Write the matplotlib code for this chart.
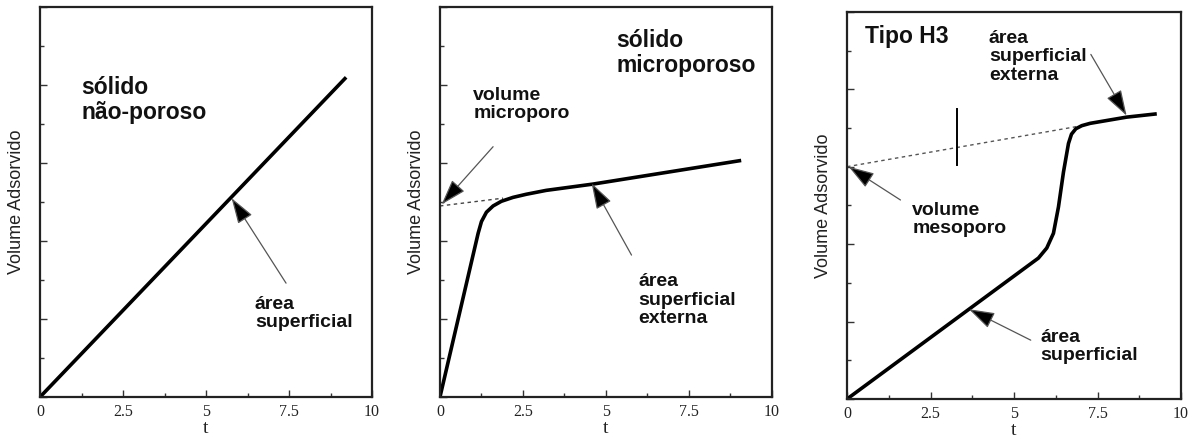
import numpy as np
import matplotlib.pyplot as plt
from matplotlib.ticker import MultipleLocator

# isotherm t-plot curves (t, volume adsorbed)
t_nonporous = [0.0, 9.22]
v_nonporous = [0.0, 4.10]

t_micro = [0.0, 1.15, 1.25, 1.40, 1.60, 1.85, 2.20, 2.60, 3.20, 4.60, 9.02]
v_micro = [0.0, 2.10, 2.25, 2.37, 2.45, 2.51, 2.56, 2.60, 2.65, 2.73, 3.03]
t_micro_extrap = [0.0, 1.9]
v_micro_extrap = [2.45, 2.55]

t_h3 = [0.0, 5.73, 5.98, 6.18, 6.33, 6.48, 6.63, 6.72, 6.85, 7.03, 7.28, 8.37, 9.22]
v_h3 = [0.0, 1.82, 1.95, 2.14, 2.48, 2.93, 3.30, 3.42, 3.49, 3.53, 3.56, 3.64, 3.68]
t_h3_extrap = [0.0, 6.9]
v_h3_extrap = [3.0, 3.52]
t_h3_mark = [3.28, 3.28]
v_h3_mark = [3.02, 3.74]

xticks = [0, 2.5, 5, 7.5, 10]
xticklabels = ["0", "2.5", "5", "7.5", "10"]

# (text, x, top y, fontsize)
labels_1 = [("sólido\nnão-poroso", 1.25, 4.12, 16.5),
            ("área\nsuperficial", 6.47, 1.30, 14)]
labels_2 = [("sólido\nmicroporoso", 5.32, 4.72, 16.5),
            ("volume\nmicroporo", 1.0, 3.98, 14),
            ("área\nsuperficial\nexterna", 5.97, 1.59, 14)]
labels_3 = [("Tipo H3", 0.55, 4.83, 16.5),
            ("área\nsuperficial\nexterna", 4.25, 4.77, 14),
            ("volume\nmesoporo", 1.95, 2.55, 14),
            ("área\nsuperficial", 5.8, 0.91, 14)]

# (head xy, tail xy)
arrows_1 = [((5.77, 2.55), (7.41, 1.46))]
arrows_2 = [((0.05, 2.47), (1.6, 3.21)),
            ((4.57, 2.74), (5.77, 1.82))]
arrows_3 = [((0.05, 3.0), (1.6, 2.57)),
            ((8.37, 3.66), (7.3, 4.45)),
            ((3.65, 1.16), (5.5, 0.76))]

plt.rcParams['font.family'] = ['Liberation Sans', 'DejaVu Sans']

fig = plt.figure(figsize=(11.92, 4.41), dpi=100)
ax1 = fig.add_axes([0.0336, 0.0998, 0.2785, 0.884])
ax2 = fig.add_axes([0.3691, 0.0998, 0.2785, 0.884])
ax3 = fig.add_axes([0.7106, 0.0952, 0.2802, 0.878])


def style_axes(ax):
    ax.set_xlim(0, 10)
    ax.set_ylim(0, 5)
    ax.set_xticks(xticks)
    ax.set_xticklabels(xticklabels, family=['Liberation Serif'], fontsize=11.5,
                       color='#222222')
    ax.xaxis.set_minor_locator(MultipleLocator(1.25))
    ax.yaxis.set_major_locator(MultipleLocator(1))
    ax.yaxis.set_minor_locator(MultipleLocator(0.5))
    ax.set_yticklabels([])
    ax.tick_params(which='both', direction='in', top=False, right=False,
                   color='#333333', width=1)
    ax.tick_params(which='major', length=5, pad=5)
    ax.tick_params(which='minor', length=3)
    for sp in ax.spines.values():
        sp.set_linewidth(1.6)
        sp.set_color('#222222')
    ax.set_xlabel("t", family=['Liberation Serif'], fontsize=14, labelpad=0,
                  color='#222222')
    ax.set_ylabel("Volume Adsorvido", fontsize=13, color='#222222', labelpad=6)


def add_labels(ax, labels, arrows):
    for text, x, y, fs in labels:
        ax.text(x, y, text, fontsize=fs, fontweight='bold', va='top', ha='left',
                linespacing=1.12, color='#111111')
    for head, tail in arrows:
        ax.annotate("", xy=head, xytext=tail,
                    arrowprops=dict(arrowstyle='-|>,head_length=0.8,head_width=0.26',
                                    mutation_scale=20, edgecolor='#555555',
                                    facecolor='black', lw=0.9,
                                    shrinkA=0, shrinkB=0))


for ax in (ax1, ax2, ax3):
    style_axes(ax)

ax1.plot(t_nonporous, v_nonporous, color='black', lw=2.6, solid_capstyle='butt')
add_labels(ax1, labels_1, arrows_1)

ax2.plot(t_micro_extrap, v_micro_extrap, color='#444444', lw=1, ls=(0, (2.5, 2.5)))
ax2.plot(t_micro, v_micro, color='black', lw=2.6, solid_joinstyle='round')
add_labels(ax2, labels_2, arrows_2)

ax3.plot(t_h3_extrap, v_h3_extrap, color='#555555', lw=1, ls=(0, (2.5, 2.5)))
ax3.plot(t_h3_mark, v_h3_mark, color='black', lw=1.4)
ax3.plot(t_h3, v_h3, color='black', lw=2.6, solid_joinstyle='round')
add_labels(ax3, labels_3, arrows_3)

fig.savefig("out.png", dpi=100)
